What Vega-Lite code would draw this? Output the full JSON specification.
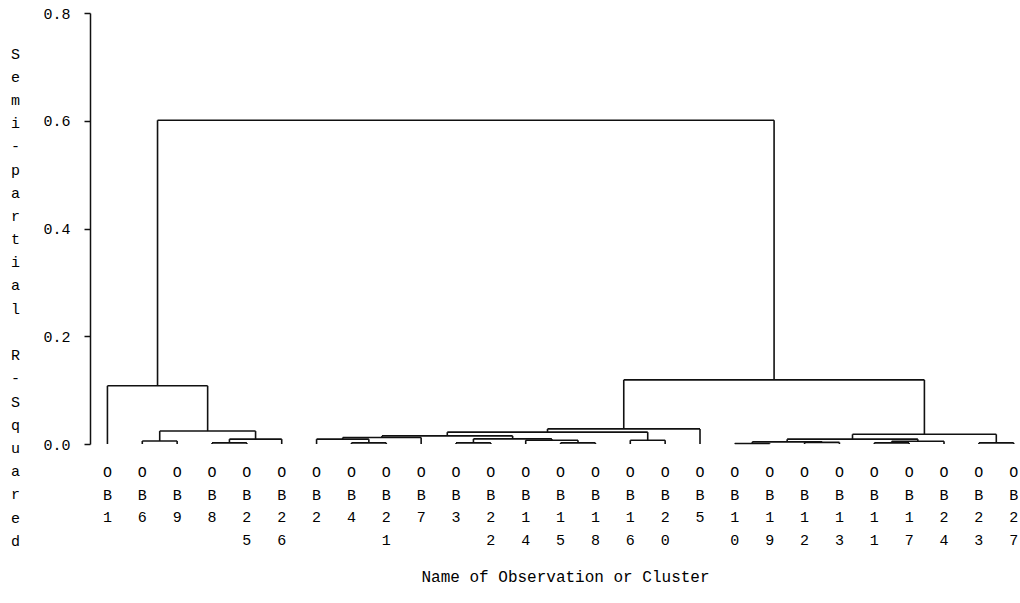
{
  "$schema": "https://vega.github.io/schema/vega-lite/v6.json",
  "width": 930,
  "height": 431,
  "autosize": "none",
  "padding": {"left": 90, "top": 13, "right": 0, "bottom": 159},
  "background": "white",
  "config": {
    "view": {"stroke": null},
    "axisY": {"grid": false, "tickSize": 6, "tickColor": "#111", "tickWidth": 1.5, "domainColor": "#111", "domainWidth": 1.5, "labelFont": "Liberation Mono", "labelFontSize": 15, "labelColor": "#000", "labelPadding": 14, "titleAngle": 0, "titleX": -75, "titleY": 33, "titleBaseline": "top", "titleAlign": "center", "titleFont": "Liberation Mono", "titleFontSize": 15, "titleFontWeight": "normal", "titleLineHeight": 23.2, "titleColor": "#000"},
    "axisX": {"labels": false, "ticks": false, "domain": false, "grid": false, "titleX": 475, "titleY": 124, "titleFont": "Liberation Mono", "titleFontSize": 16, "titleFontWeight": "normal", "titleColor": "#000"}
  },
  "datasets": {
    "nodes": [
      {"xl": 1, "xr": 2, "hl": 0, "hr": 0, "h": 0.0056},
      {"xl": 3, "xr": 4, "hl": 0, "hr": 0, "h": 0.002},
      {"xl": 3.5, "xr": 5, "hl": 0.002, "hr": 0, "h": 0.009},
      {"xl": 1.5, "xr": 4.25, "hl": 0.0056, "hr": 0.009, "h": 0.024},
      {"xl": 0, "xr": 2.875, "hl": 0, "hr": 0.024, "h": 0.108},
      {"xl": 7, "xr": 8, "hl": 0, "hr": 0, "h": 0.002},
      {"xl": 6, "xr": 7.5, "hl": 0, "hr": 0.002, "h": 0.009},
      {"xl": 6.75, "xr": 9, "hl": 0.009, "hr": 0, "h": 0.012},
      {"xl": 10, "xr": 11, "hl": 0, "hr": 0, "h": 0.002},
      {"xl": 13, "xr": 14, "hl": 0, "hr": 0, "h": 0.002},
      {"xl": 12, "xr": 13.5, "hl": 0, "hr": 0.002, "h": 0.007},
      {"xl": 10.5, "xr": 12.75, "hl": 0.002, "hr": 0.007, "h": 0.0095},
      {"xl": 7.875, "xr": 11.625, "hl": 0.012, "hr": 0.0095, "h": 0.015},
      {"xl": 15, "xr": 16, "hl": 0, "hr": 0, "h": 0.007},
      {"xl": 9.75, "xr": 15.5, "hl": 0.015, "hr": 0.007, "h": 0.022},
      {"xl": 12.625, "xr": 17, "hl": 0.022, "hr": 0, "h": 0.028},
      {"xl": 18, "xr": 19, "hl": 0, "hr": 0, "h": 0.001},
      {"xl": 20, "xr": 21, "hl": 0, "hr": 0, "h": 0.003},
      {"xl": 18.5, "xr": 20.5, "hl": 0.001, "hr": 0.003, "h": 0.004},
      {"xl": 22, "xr": 23, "hl": 0, "hr": 0, "h": 0.002},
      {"xl": 22.5, "xr": 24, "hl": 0.002, "hr": 0, "h": 0.005},
      {"xl": 19.5, "xr": 23.25, "hl": 0.004, "hr": 0.005, "h": 0.009},
      {"xl": 25, "xr": 26, "hl": 0, "hr": 0, "h": 0.002},
      {"xl": 21.375, "xr": 25.5, "hl": 0.009, "hr": 0.002, "h": 0.018},
      {"xl": 14.8125, "xr": 23.4375, "hl": 0.028, "hr": 0.018, "h": 0.119},
      {"xl": 1.4375, "xr": 19.125, "hl": 0.108, "hr": 0.119, "h": 0.601}
    ],
    "leaves": [
      {"i": 0, "name": "OB1"}, {"i": 1, "name": "OB6"}, {"i": 2, "name": "OB9"},
      {"i": 3, "name": "OB8"}, {"i": 4, "name": "OB25"}, {"i": 5, "name": "OB26"},
      {"i": 6, "name": "OB2"}, {"i": 7, "name": "OB4"}, {"i": 8, "name": "OB21"},
      {"i": 9, "name": "OB7"}, {"i": 10, "name": "OB3"}, {"i": 11, "name": "OB22"},
      {"i": 12, "name": "OB14"}, {"i": 13, "name": "OB15"}, {"i": 14, "name": "OB18"},
      {"i": 15, "name": "OB16"}, {"i": 16, "name": "OB20"}, {"i": 17, "name": "OB5"},
      {"i": 18, "name": "OB10"}, {"i": 19, "name": "OB19"}, {"i": 20, "name": "OB12"},
      {"i": 21, "name": "OB13"}, {"i": 22, "name": "OB11"}, {"i": 23, "name": "OB17"},
      {"i": 24, "name": "OB24"}, {"i": 25, "name": "OB23"}, {"i": 26, "name": "OB27"}
    ]
  },
  "layer": [
    {
      "data": {"name": "nodes"},
      "mark": {"type": "rule", "color": "#111", "strokeWidth": 1.6},
      "encoding": {
        "x": {"field": "xl", "type": "quantitative", "scale": {"domain": [-0.5, 26.18], "nice": false, "zero": false}, "title": "Name of Observation or Cluster"},
        "x2": {"field": "xr"},
        "y": {"field": "h", "type": "quantitative", "scale": {"domain": [0, 0.8], "nice": false}, "axis": {"values": [0, 0.2, 0.4, 0.6, 0.8], "format": ".1f"}, "title": ["S","e","m","i","-","p","a","r","t","i","a","l","\u200b","R","-","S","q","u","a","r","e","d"]}
      }
    },
    {
      "data": {"name": "nodes"},
      "mark": {"type": "rule", "color": "#111", "strokeWidth": 1.6},
      "encoding": {
        "x": {"field": "xl", "type": "quantitative", "title": "Name of Observation or Cluster"},
        "y": {"field": "hl", "type": "quantitative", "axis": {"values": [0, 0.2, 0.4, 0.6, 0.8], "format": ".1f"}, "title": ["S","e","m","i","-","p","a","r","t","i","a","l","\u200b","R","-","S","q","u","a","r","e","d"]},
        "y2": {"field": "h"}
      }
    },
    {
      "data": {"name": "nodes"},
      "mark": {"type": "rule", "color": "#111", "strokeWidth": 1.6},
      "encoding": {
        "x": {"field": "xr", "type": "quantitative", "title": "Name of Observation or Cluster"},
        "y": {"field": "hr", "type": "quantitative", "axis": {"values": [0, 0.2, 0.4, 0.6, 0.8], "format": ".1f"}, "title": ["S","e","m","i","-","p","a","r","t","i","a","l","\u200b","R","-","S","q","u","a","r","e","d"]},
        "y2": {"field": "h"}
      }
    },
    {
      "data": {"name": "leaves"},
      "transform": [{"calculate": "split(datum.name, '')", "as": "lines"}],
      "mark": {"type": "text", "font": "Liberation Mono", "fontSize": 15, "color": "#000", "baseline": "top", "align": "center", "dy": 21, "lineHeight": 22.7},
      "encoding": {
        "x": {"field": "i", "type": "quantitative", "title": "Name of Observation or Cluster"},
        "y": {"datum": 0, "type": "quantitative"},
        "text": {"field": "lines", "type": "nominal"}
      }
    }
  ]
}
